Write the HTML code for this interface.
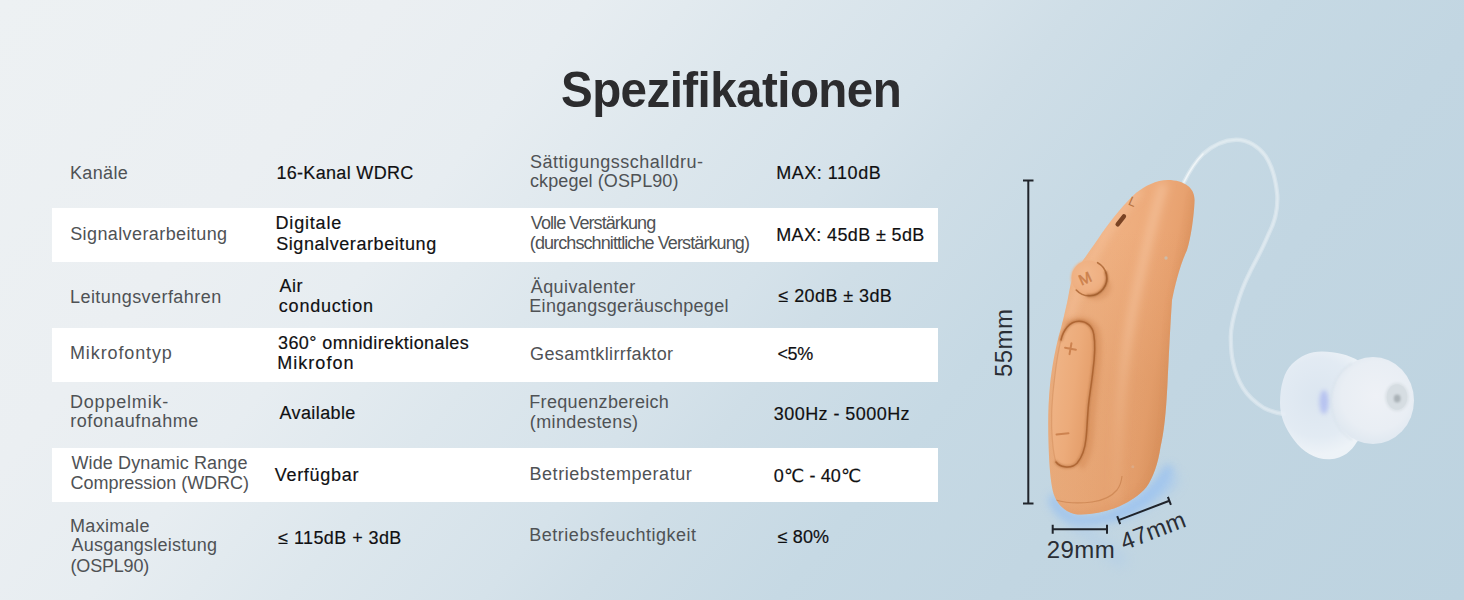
<!DOCTYPE html>
<html lang="de">
<head>
<meta charset="utf-8">
<title>Spezifikationen</title>
<style>
html,body{margin:0;padding:0;}
body{width:1464px;height:600px;overflow:hidden;position:relative;
  font-family:"Liberation Sans","DejaVu Sans",sans-serif;
  background:linear-gradient(130deg,#edf1f3 0%,#ebeff2 20%,#e7edf1 30%,#dde7ed 40%,#d5e2ea 50%,#cfdee7 55%,#c6d9e4 65%,#c2d6e2 76%,#bdd3e0 100%);}
.stage{position:absolute;left:0;top:0;width:1464px;height:600px;overflow:hidden;}
h1{position:absolute;margin:0;white-space:nowrap;font-weight:700;color:#2c2c2e;
  font-size:50px;line-height:50px;letter-spacing:-0.6px;transform-origin:0 0;transform:scaleX(0.951);}
.row{position:absolute;left:52px;width:886px;height:54px;background:#fff;}
.t{position:absolute;white-space:nowrap;font-size:18px;line-height:20px;}
.l{color:#4f5255;}
.v{color:#101012;-webkit-text-stroke:0.18px #101012;}
svg{position:absolute;left:0;top:0;}
.dim{font-family:"Liberation Sans",sans-serif;font-size:24px;fill:#2a2e35;letter-spacing:0.4px;}
</style>
</head>
<body>
<div class="stage">

<h1 id="title" style="left:560.5px;top:65px;">Spezifikationen</h1>

<div class="row" style="top:208px"></div>
<div class="row" style="top:328px"></div>
<div class="row" style="top:448px"></div>

<div class="t l" id="a1" style="left:70.0px;top:163.3px;letter-spacing:0.35px">Kanäle</div>
<div class="t l" id="a2" style="left:70.2px;top:223.8px;letter-spacing:0.40px">Signalverarbeitung</div>
<div class="t l" id="a3" style="left:70.0px;top:286.8px;letter-spacing:0.44px">Leitungsverfahren</div>
<div class="t l" id="a4" style="left:70.0px;top:343.3px;letter-spacing:0.88px">Mikrofontyp</div>
<div class="t l" id="a5a" style="left:70.0px;top:391.8px;letter-spacing:0.80px">Doppelmik-</div>
<div class="t l" id="a5b" style="left:70.2px;top:411.3px;letter-spacing:0.59px">rofonaufnahme</div>
<div class="t l" id="a6a" style="left:71.5px;top:453.4px;letter-spacing:0.11px">Wide Dynamic Range</div>
<div class="t l" id="a6b" style="left:70.5px;top:472.6px;letter-spacing:-0.03px">Compression (WDRC)</div>
<div class="t l" id="a7a" style="left:70.0px;top:515.5px;letter-spacing:0.34px">Maximale</div>
<div class="t l" id="a7b" style="left:71.5px;top:535.3px;letter-spacing:0.22px">Ausgangsleistung</div>
<div class="t l" id="a7c" style="left:70.5px;top:555.7px;letter-spacing:-0.18px">(OSPL90)</div>
<div class="t v" id="b1" style="left:276.4px;top:163.3px;letter-spacing:0.32px">16-Kanal WDRC</div>
<div class="t v" id="b2a" style="left:275.5px;top:212.8px;letter-spacing:0.82px">Digitale</div>
<div class="t v" id="b2b" style="left:276.2px;top:233.5px;letter-spacing:0.58px">Signalverarbeitung</div>
<div class="t v" id="b3a" style="left:279.5px;top:276.2px;letter-spacing:0.55px">Air</div>
<div class="t v" id="b3b" style="left:278.8px;top:296.3px;letter-spacing:0.79px">conduction</div>
<div class="t v" id="b4a" style="left:278.0px;top:332.8px;letter-spacing:0.40px">360° omnidirektionales</div>
<div class="t v" id="b4b" style="left:277.2px;top:352.8px;letter-spacing:1.05px">Mikrofon</div>
<div class="t v" id="b5" style="left:279.5px;top:403.2px;letter-spacing:0.39px">Available</div>
<div class="t v" id="b6" style="left:274.7px;top:464.8px;letter-spacing:0.71px">Verfügbar</div>
<div class="t v" id="b7" style="left:278.2px;top:527.6px;letter-spacing:0.42px">≤ 115dB + 3dB</div>
<div class="t l" id="c1a" style="left:530.0px;top:152.3px;letter-spacing:0.52px">Sättigungsschalldru-</div>
<div class="t l" id="c1b" style="left:530.0px;top:171.3px;letter-spacing:0.09px">ckpegel (OSPL90)</div>
<div class="t l" id="c2a" style="left:530.8px;top:213.4px;letter-spacing:-0.92px">Volle Verstärkung</div>
<div class="t l" id="c2b" style="left:529.8px;top:232.6px;letter-spacing:-0.90px">(durchschnittliche Verstärkung)</div>
<div class="t l" id="c3a" style="left:530.8px;top:276.6px;letter-spacing:0.40px">Äquivalenter</div>
<div class="t l" id="c3b" style="left:529.3px;top:296.1px;letter-spacing:0.30px">Eingangsgeräuschpegel</div>
<div class="t l" id="c4" style="left:530.0px;top:344.0px;letter-spacing:0.38px">Gesamtklirrfaktor</div>
<div class="t l" id="c5a" style="left:529.3px;top:392.3px;letter-spacing:0.32px">Frequenzbereich</div>
<div class="t l" id="c5b" style="left:529.8px;top:411.8px;letter-spacing:0.38px">(mindestens)</div>
<div class="t l" id="c6" style="left:529.5px;top:463.5px;letter-spacing:0.54px">Betriebstemperatur</div>
<div class="t l" id="c7" style="left:529.3px;top:524.7px;letter-spacing:0.51px">Betriebsfeuchtigkeit</div>
<div class="t v" id="d1" style="left:776.2px;top:163.2px;letter-spacing:0.53px">MAX: 110dB</div>
<div class="t v" id="d2" style="left:776.2px;top:224.8px;letter-spacing:0.37px">MAX: 45dB ± 5dB</div>
<div class="t v" id="d3" style="left:778.5px;top:286.1px;letter-spacing:0.41px">≤ 20dB ± 3dB</div>
<div class="t v" id="d4" style="left:777.4px;top:344.0px;letter-spacing:-0.38px">&lt;5%</div>
<div class="t v" id="d5" style="left:773.8px;top:403.8px;letter-spacing:0.44px">300Hz - 5000Hz</div>
<div class="t v" id="d6" style="left:773.8px;top:465.5px;letter-spacing:0.13px">0℃ - 40℃</div>
<div class="t v" id="d7" style="left:777.7px;top:527.0px;letter-spacing:0.10px">≤ 80%</div>
<svg id="illus" width="1464" height="600" viewBox="0 0 1464 600">
<defs>
  <linearGradient id="gBody" gradientUnits="userSpaceOnUse" x1="1056" y1="330" x2="1176" y2="350">
    <stop offset="0" stop-color="#f0b588"/>
    <stop offset="0.35" stop-color="#efb081"/>
    <stop offset="0.60" stop-color="#edab7b"/>
    <stop offset="0.85" stop-color="#e8a270"/>
    <stop offset="1" stop-color="#dd9561"/>
  </linearGradient>
  <linearGradient id="gRock" gradientUnits="userSpaceOnUse" x1="1052" y1="390" x2="1094" y2="396">
    <stop offset="0" stop-color="#efb385"/>
    <stop offset="0.5" stop-color="#ecab7a"/>
    <stop offset="1" stop-color="#e39c68"/>
  </linearGradient>
  <radialGradient id="gBtn" gradientUnits="userSpaceOnUse" cx="1086" cy="274" r="24">
    <stop offset="0" stop-color="#f2b88c"/>
    <stop offset="0.65" stop-color="#efb082"/>
    <stop offset="1" stop-color="#e8a371"/>
  </radialGradient>
  <radialGradient id="gDomeL" gradientUnits="userSpaceOnUse" cx="1318" cy="398" r="56">
    <stop offset="0" stop-color="#dfe8f2" stop-opacity="0.88"/>
    <stop offset="0.7" stop-color="#e6edf5" stop-opacity="0.9"/>
    <stop offset="1" stop-color="#f1f5f9" stop-opacity="0.92"/>
  </radialGradient>
  <radialGradient id="gDomeR" gradientUnits="userSpaceOnUse" cx="1376" cy="396" r="46">
    <stop offset="0" stop-color="#eef1f6"/>
    <stop offset="0.75" stop-color="#e9eef4"/>
    <stop offset="1" stop-color="#e1e9f1"/>
  </radialGradient>
  <linearGradient id="gRidge" gradientUnits="userSpaceOnUse" x1="0" y1="184" x2="0" y2="505">
    <stop offset="0" stop-color="#f9cfae" stop-opacity="0.55"/>
    <stop offset="0.45" stop-color="#f8cba8" stop-opacity="0.5"/>
    <stop offset="0.8" stop-color="#f6c6a0" stop-opacity="0.22"/>
    <stop offset="1" stop-color="#f6c6a0" stop-opacity="0.15"/>
  </linearGradient>
  <linearGradient id="gDark" gradientUnits="userSpaceOnUse" x1="0" y1="230" x2="0" y2="380">
    <stop offset="0" stop-color="#c9844e" stop-opacity="0"/>
    <stop offset="1" stop-color="#c9844e" stop-opacity="0.2"/>
  </linearGradient>
  <filter id="fb1" filterUnits="userSpaceOnUse" x="960" y="100" width="504" height="500"><feGaussianBlur stdDeviation="1"/></filter>
  <filter id="fb2" filterUnits="userSpaceOnUse" x="960" y="100" width="504" height="500"><feGaussianBlur stdDeviation="2"/></filter>
  <filter id="fb4" filterUnits="userSpaceOnUse" x="960" y="100" width="504" height="500"><feGaussianBlur stdDeviation="4"/></filter>
  <filter id="fb6" filterUnits="userSpaceOnUse" x="960" y="100" width="504" height="500"><feGaussianBlur stdDeviation="6"/></filter>
  <clipPath id="cBody"><path d="M1168,180 C1156,180 1145,186 1136,193 C1125,203 1112,219 1102,233 C1093,247 1081,262 1074.5,274 C1070,282 1069.5,292 1067,303 C1065,312 1063,320 1061,328 C1056,345 1052,366 1050,385 C1048,405 1048,425 1048.5,442 C1049,460 1050,475 1052,487 C1054,498 1058,505 1067,511 C1072,514 1077,514.5 1081,514.5 C1094,514.5 1107,511.5 1120,506 C1129,502 1140,495 1146.5,487 C1153,478 1158,464 1160.5,447 C1164,432 1166,413 1167.4,385 C1168.8,357 1170,330 1172,300 C1175,285 1180,265 1187,250 C1191,238 1194,215 1194.5,202 C1195,194 1192,189 1188,186 C1183,182 1176,180 1168,180 Z"/></clipPath>
</defs>

<!-- floor shadow -->
<path d="M1054,500 C1060,516 1072,521 1090,520 C1112,519 1134,509 1150,494 C1158,486 1164,478 1168,470" fill="none" stroke="#97c0f0" stroke-width="11" stroke-linecap="round" opacity="0.75" filter="url(#fb4)"/>
<path d="M1120,512 C1140,505 1158,494 1172,480" fill="none" stroke="#9dc4f2" stroke-width="12" stroke-linecap="round" opacity="0.55" filter="url(#fb6)"/>
<path d="M1075,524 L1120,560" fill="none" stroke="#a9c9ec" stroke-width="14" stroke-linecap="round" opacity="0.35" filter="url(#fb6)"/>

<!-- dimension lines -->
<g stroke="#20242b" stroke-width="2" fill="none" stroke-linecap="butt">
  <path d="M1028.3,180 V504 M1023,180.5 H1033.5 M1023,503.6 H1033.5"/>
  <path d="M1052.7,529.2 H1107 M1052.7,524.7 V533.7 M1107,524.7 V533.7"/>
  <path d="M1118.7,520.1 L1169.4,500.8 M1117.2,516.1 L1120.2,524.1 M1167.9,496.8 L1170.9,504.8"/>
</g>
<text id="t55" class="dim" transform="translate(1012.3,342.8) rotate(-90)" text-anchor="middle">55mm</text>
<text id="t29" class="dim" x="1081" y="558" text-anchor="middle">29mm</text>
<text id="t47" class="dim" transform="translate(1156,538.2) rotate(-21)" text-anchor="middle">47mm</text>

<!-- tube -->
<path d="M1184,182 C1189,172 1196,161 1203,154 C1212,146 1224,140 1236,139.7 C1248,139.5 1259,147 1265.5,156 C1272,166 1276,181 1277.3,195 C1278,210 1274,224 1268.6,234 C1262,250 1256,260 1250,272 C1244,284 1240,294 1237,305 C1233,318 1230.5,328 1230.8,338 C1231,348 1231,354 1233,362 C1235,372 1238,380 1243,388 C1248,396 1256,403 1264,408 C1270,411 1277,413 1284,414" fill="none" stroke="#ffffff" stroke-opacity="0.30" stroke-width="4.4" stroke-linecap="round"/>
<path d="M1184,182 C1189,172 1196,161 1203,154 C1212,146 1224,140 1236,139.7 C1248,139.5 1259,147 1265.5,156 C1272,166 1276,181 1277.3,195 C1278,210 1274,224 1268.6,234 C1262,250 1256,260 1250,272 C1244,284 1240,294 1237,305 C1233,318 1230.5,328 1230.8,338 C1231,348 1231,354 1233,362 C1235,372 1238,380 1243,388 C1248,396 1256,403 1264,408 C1270,411 1277,413 1284,414" fill="none" stroke="#ffffff" stroke-opacity="0.22" stroke-width="2" stroke-linecap="round"/>
<path d="M1184,182 C1189,172 1196,161 1203,154" fill="none" stroke="#ffffff" stroke-opacity="0.5" stroke-width="1.6" stroke-linecap="round"/>

<!-- ear dome -->
<path d="M1280,403 C1280,386 1284,372 1292,364 C1300,356 1310,351.5 1322,351.5 C1336,351.5 1349,355 1359,361 L1374,378 L1374,428 L1357,441.8 C1352,451 1343,458.5 1330,459.3 C1316,460 1303,452 1294,440 C1285,428 1280,416 1280,403 Z" fill="url(#gDomeL)"/>
<ellipse cx="1324" cy="402" rx="4.5" ry="12" fill="#98a6f0" opacity="0.55" filter="url(#fb2)"/>
<ellipse cx="1373" cy="400.5" rx="41" ry="43.5" fill="url(#gDomeR)"/>
<path d="M1352,363 C1338,372 1331,386 1331.5,402 C1332,418 1339,432 1352,440" fill="none" stroke="#dbe4ec" stroke-width="1.6" opacity="0.9" filter="url(#fb1)"/>
<ellipse cx="1397" cy="397" rx="12" ry="14.5" fill="#dde3e8" filter="url(#fb1)"/>
<ellipse cx="1397" cy="397" rx="10.3" ry="12.8" fill="#d6dde2"/>
<ellipse cx="1397.2" cy="398.5" rx="3.4" ry="4" fill="#aab2b7" filter="url(#fb1)"/>

<!-- body -->
<path d="M1168,180 C1156,180 1145,186 1136,193 C1125,203 1112,219 1102,233 C1093,247 1081,262 1074.5,274 C1070,282 1069.5,292 1067,303 C1065,312 1063,320 1061,328 C1056,345 1052,366 1050,385 C1048,405 1048,425 1048.5,442 C1049,460 1050,475 1052,487 C1054,498 1058,505 1067,511 C1072,514 1077,514.5 1081,514.5 C1094,514.5 1107,511.5 1120,506 C1129,502 1140,495 1146.5,487 C1153,478 1158,464 1160.5,447 C1164,432 1166,413 1167.4,385 C1168.8,357 1170,330 1172,300 C1175,285 1180,265 1187,250 C1191,238 1194,215 1194.5,202 C1195,194 1192,189 1188,186 C1183,182 1176,180 1168,180 Z" fill="url(#gBody)"/>
<g clip-path="url(#cBody)">
  <rect x="1040" y="170" width="170" height="360" fill="url(#gDark)"/>
  <!-- ridge highlight between front face and side -->
  <path d="M1164,184 C1156,205 1146,250 1138,285 C1130,320 1124,360 1121,400 C1118,440 1117,470 1116,505" stroke="url(#gRidge)" stroke-width="8" fill="none" filter="url(#fb4)"/>
  <!-- right-edge shade -->
  <path d="M1198,196 C1196,235 1180,280 1176,310 C1172,360 1173,420 1166,450 C1160,478 1148,495 1130,508" stroke="#d88e5b" stroke-width="7" fill="none" opacity="0.45" filter="url(#fb4)"/>
  <!-- top-left face light -->
  <path d="M1140,190 C1110,220 1085,265 1068,320" stroke="#f8c8a4" stroke-width="8" fill="none" opacity="0.5" filter="url(#fb4)"/>
  <!-- bottom shade -->
  <path d="M1048,506 C1070,522 1112,518 1142,494" stroke="#de9663" stroke-width="8" fill="none" opacity="0.55" filter="url(#fb4)"/>
  <!-- battery door seam -->
  <path d="M1055.5,500 C1066,503 1080,503.5 1092,502 C1103,500.5 1112,496 1117,490 C1120,486 1121.5,481 1122,476" stroke="#c8804d" stroke-width="1.2" fill="none" opacity="0.7"/>
</g>

<!-- slot + L + dots -->
<rect x="1118.6" y="213" width="4.4" height="14.6" rx="2.2" fill="#7a4324" transform="rotate(38 1120.8 220.3)"/>
<text x="1132.5" y="206" font-family="Liberation Sans, sans-serif" font-size="13" fill="#b87340" text-anchor="middle" transform="rotate(24 1132.5 202)">L</text>
<circle cx="1166" cy="258" r="1.7" fill="#cdbba8"/>
<circle cx="1132.8" cy="466.8" r="1.5" fill="#dcaa86"/>

<!-- M button -->
<ellipse cx="1096" cy="287" rx="15" ry="13" fill="#cf8653" opacity="0.40" filter="url(#fb2)"/>
<circle cx="1089.3" cy="278.2" r="18.6" fill="#f1b689" opacity="0.9" filter="url(#fb1)"/>
<circle cx="1088.7" cy="277.8" r="17.2" fill="url(#gBtn)"/>
<path d="M1097.6,262.7 A17.6,17.6 0 1 1 1076.2,290.0" fill="none" stroke="#b06a38" stroke-width="1.6" stroke-linecap="round" opacity="0.9"/>
<path d="M1105.8,272.2 A17.6,17.6 0 0 1 1087.8,295.7" fill="none" stroke="#9a5726" stroke-width="2.2" stroke-linecap="round" opacity="0.85" filter="url(#fb1)"/>
<text x="1085.5" y="279.5" font-family="Liberation Sans, sans-serif" font-size="15" fill="#cc814d" stroke="#cc814d" stroke-width="0.5" text-anchor="middle" transform="rotate(-24 1085.5 279.5)" dominant-baseline="middle">M</text>

<!-- rocker -->
<g clip-path="url(#cBody)">
<path d="M1066,326 C1074,318 1090,318 1096,330 C1100,342 1098,360 1096,375 C1094,392 1092,410 1091,428 C1090,445 1088,458 1080,467" fill="none" stroke="#d58c59" stroke-width="7" opacity="0.55" filter="url(#fb2)"/>
</g>
<path d="M1078.2,322.2 C1085.5,322.2 1090.8,327.5 1092,335 C1093.4,343 1093,356 1091,371 C1089.6,384 1087.6,395 1086.6,405 C1085.6,415 1085.2,428 1084.2,438 C1083.2,447.5 1080.8,455.5 1075.6,461.8 C1072.4,465.2 1068.2,465.8 1064.8,465.2 C1060,464.8 1056.4,462.6 1054.9,458.6 C1052.4,450.8 1051.4,430 1051.9,413 C1052.4,400 1053.2,392 1054.2,385 C1055.2,375 1056.2,365 1057.7,356 C1059.2,347 1060.6,340.3 1063,333.6 C1065.9,327 1071,322.2 1078.2,322.2 Z" fill="url(#gRock)"/>
<path d="M1061,340 C1063,331 1069,321.2 1079,321.2 C1087,321.2 1092.6,326.5 1093.8,334.5 C1095.3,343 1094.9,356 1092.9,371 C1091.5,384 1089.5,395 1088.5,405 C1087.500,415 1087.1,428 1086.1,438 C1085.1,448 1082.6,456.5 1077.2,463 C1073.6,466.8 1068.8,467.4 1064.8,466.8 C1061,466.3 1058,464.6 1056,462" fill="none" stroke="#b06835" stroke-width="3.2" stroke-linecap="round" opacity="0.55" filter="url(#fb1)"/>
<path d="M1061,340 C1063,331 1069,321.2 1079,321.2 C1087,321.2 1092.6,326.5 1093.8,334.5 C1095.3,343 1094.9,356 1092.9,371 C1091.5,384 1089.5,395 1088.5,405 C1087.500,415 1087.1,428 1086.1,438 C1085.1,448 1082.6,456.5 1077.2,463 C1073.6,466.8 1068.8,467.4 1064.8,466.8 C1061,466.3 1058,464.6 1056,462" fill="none" stroke="#a9602e" stroke-width="1.5" stroke-linecap="round" opacity="0.85"/>
<path d="M1056,462 C1052.6,452 1051.2,430 1051.7,413 C1052.2,398 1053.6,386 1055,375 C1056.4,363 1058.4,350 1061,340" fill="none" stroke="#c67e4b" stroke-width="1.2" opacity="0.35"/>
<path d="M1070.5,343.2 V354.2 M1065,348.7 H1076" stroke="#cd8350" stroke-width="2" stroke-linecap="round" transform="rotate(10 1070.5 348.7)"/>
<path d="M1056.5,434.5 L1068.5,433.3" stroke="#cd8350" stroke-width="2" stroke-linecap="round"/>
</svg>


</div>
</body>
</html>
